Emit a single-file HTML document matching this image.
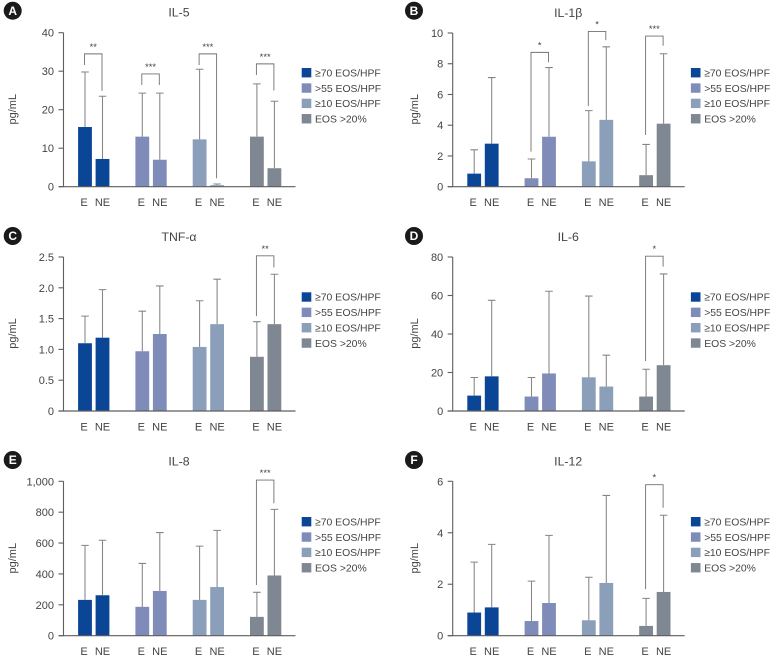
<!DOCTYPE html>
<html lang="en">
<head>
<meta charset="utf-8">
<title>Cytokine levels by eosinophil group</title>
<style>
html,body{margin:0;padding:0;background:#fff;width:775px;height:658px;overflow:hidden}
svg{display:block}
text{font-family:"Liberation Sans",sans-serif;fill:#444}
</style>
</head>
<body>
<svg id="figure" width="775" height="658" viewBox="0 0 775 658" xmlns="http://www.w3.org/2000/svg"></svg>
<script>
// Shared categories
const groupNames = ['70-eos', '55-eos', '10-eos', 'eos-20'];
const xLabels = ['E', 'NE'];
const legendLabels = ['\u226570 EOS/HPF', '>55 EOS/HPF', '\u226510 EOS/HPF', 'EOS >20%'];

// Panel A: IL-5
const il5Ticks = ['0', '10', '20', '30', '40'];
const il5TickValues = [0, 10, 20, 30, 40];
const il5Means = [15.5, 7.2, 13, 7, 12.3, 0.4, 13, 4.8];
const il5Upper = [29.8, 23.5, 24.3, 24.3, 30.5, 0.7, 26.7, 22.2];
const il5SigGroups = [0, 1, 2, 3];
const il5SigLeft = [31.6, 26.4, 31.6, 29];
const il5SigTop = [34.5, 29.3, 34.5, 31.9];
const il5SigRight = [24.9, 26.4, 2.2, 25];
const il5SigStars = ['**', '***', '***', '***'];

// Panel B: IL-1 beta
const il1bTicks = ['0', '2', '4', '6', '8', '10'];
const il1bTickValues = [0, 2, 4, 6, 8, 10];
const il1bMeans = [0.85, 2.8, 0.55, 3.25, 1.65, 4.35, 0.75, 4.1];
const il1bUpper = [2.4, 7.1, 1.8, 7.75, 4.95, 9.1, 2.75, 8.65];
const il1bSigGroups = [1, 2, 3];
const il1bSigLeft = [2.28, 5.25, 3.36];
const il1bSigTop = [8.74, 10.1, 9.8];
const il1bSigRight = [8.1, 9.54, 9.17];
const il1bSigStars = ['*', '*', '***'];

// Panel C: TNF-alpha
const tnfTicks = ['0', '0.5', '1.0', '1.5', '2.0', '2.5'];
const tnfTickValues = [0, 0.5, 1, 1.5, 2, 2.5];
const tnfMeans = [1.1, 1.19, 0.97, 1.25, 1.04, 1.41, 0.88, 1.41];
const tnfUpper = [1.54, 1.97, 1.62, 2.03, 1.79, 2.14, 1.45, 2.22];
const tnfSigGroups = [3];
const tnfSigLeft = [1.54];
const tnfSigTop = [2.52];
const tnfSigRight = [2.33];
const tnfSigStars = ['**'];

// Panel D: IL-6
const il6Ticks = ['0', '20', '40', '60', '80'];
const il6TickValues = [0, 20, 40, 60, 80];
const il6Means = [8, 18, 7.5, 19.5, 17.5, 12.7, 7.5, 23.8];
const il6Upper = [17.4, 57.5, 17.4, 62.2, 59.7, 29, 21.7, 71.2];
const il6SigGroups = [3];
const il6SigLeft = [26];
const il6SigTop = [80.4];
const il6SigRight = [75];
const il6SigStars = ['*'];

// Panel E: IL-8
const il8Ticks = ['0', '200', '400', '600', '800', '1,000'];
const il8TickValues = [0, 200, 400, 600, 800, 1000];
const il8Means = [232, 262, 187, 290, 232, 315, 122, 390];
const il8Upper = [585, 618, 468, 668, 580, 682, 281, 818];
const il8SigGroups = [3];
const il8SigLeft = [328];
const il8SigTop = [1008];
const il8SigRight = [858];
const il8SigStars = ['***'];

// Panel F: IL-12
const il12Ticks = ['0', '2', '4', '6'];
const il12TickValues = [0, 2, 4, 6];
const il12Means = [0.9, 1.1, 0.57, 1.27, 0.6, 2.05, 0.38, 1.7];
const il12Upper = [2.86, 3.55, 2.12, 3.9, 2.27, 5.45, 1.45, 4.68];
const il12SigGroups = [3];
const il12SigLeft = [1.81];
const il12SigTop = [5.87];
const il12SigRight = [4.97];
const il12SigStars = ['*'];

const colors = ['#0a4596', '#7f8cba', '#8b9fba', '#7f8792'];
const NS = 'http://www.w3.org/2000/svg';
const figure = document.getElementById('figure');

function make(parent, tag, attrs, text) {
  const el = document.createElementNS(NS, tag);
  for (const k in attrs) el.setAttribute(k, attrs[k]);
  if (text !== undefined) el.textContent = text;
  parent.appendChild(el);
  return el;
}

function drawPanel(p) {
  const g = make(figure, 'g', {});
  
  

  const yMax = p.tickValues[p.tickValues.length - 1];
  const yScale = v => p.bottom - (v / yMax) * (p.bottom - p.top);
  const xScale = i => p.axisX + 21.5 + Math.floor(i / 2) * 57.3 + (i % 2) * 17.5;

  // Panel letter badge
  const badge = make(g, 'circle', { cx: p.badgeX, cy: p.badgeY, r: 9, fill: '#1a1a1a' });
  
  
  const badgeText = make(g, 'text', { x: p.badgeX, y: p.badgeY + 4.2, 'text-anchor': 'middle', 'font-size': 12, 'font-weight': 'bold', style: 'fill:#fff' }, p.letter);
  
  

  // Title
  const title = make(g, 'text', { x: p.axisX + 115.5, y: p.top - 16, 'text-anchor': 'middle', 'font-size': 12.3 }, p.title);
  
  

  // Y axis title
  const yc = p.bottom - 77.5;
  const yTitle = make(g, 'text', { x: p.yTitleX, y: yc, 'text-anchor': 'middle', 'font-size': 11, transform: 'rotate(-90 ' + p.yTitleX + ' ' + yc + ')' }, 'pg/mL');
  
  

  // Bars
  p.means.forEach((v, i) => {
    const color = colors[Math.floor(i / 2)];
    const cx = xScale(i);
    const bar = make(g, 'rect', { x: cx - 6.9, y: yScale(v), width: 13.8, height: p.bottom - yScale(v), fill: color });
    
    
  });

  // Error bars
  p.upper.forEach((v, i) => {
    const cx = xScale(i);
    const err = make(g, 'path', {
      d: 'M' + cx + ' ' + yScale(p.means[i]) + 'V' + yScale(v) + 'M' + (cx - 3.8) + ' ' + yScale(v) + 'H' + (cx + 3.8),
      stroke: '#858585', 'stroke-width': 1.05, fill: 'none'
    });
    
    
  });

  // Significance brackets
  p.sigGroups.forEach((grp, i) => {
    const x1 = xScale(grp * 2) - 0.5;
    const x2 = xScale(grp * 2 + 1) - 0.5;
    const yTop = yScale(p.sigTop[i]);
    const br = make(g, 'path', {
      d: 'M' + x1 + ' ' + yScale(p.sigLeft[i]) + 'V' + yTop + 'H' + x2 + 'V' + yScale(p.sigRight[i]),
      stroke: '#707070', 'stroke-width': 0.9, fill: 'none'
    });
    
    
    const st = make(g, 'text', { x: (x1 + x2) / 2, y: yTop - 4, 'text-anchor': 'middle', 'font-size': 9.4 }, p.sigStars[i]);
    
    
  });

  // Axes
  const yAxis = make(g, 'line', { x1: p.axisX, x2: p.axisX, y1: p.top, y2: p.bottom, stroke: '#5e5e5e', 'stroke-width': 1.1 });
  
  
  const xAxis = make(g, 'line', { x1: p.axisX - 5, x2: p.axisX + 232, y1: p.bottom, y2: p.bottom, stroke: '#5e5e5e', 'stroke-width': 1.2 });
  
  

  // Y ticks
  p.tickValues.forEach((v, i) => {
    const y = yScale(v);
    const tick = make(g, 'line', { x1: p.axisX - 5, x2: p.axisX, y1: y, y2: y, stroke: '#5e5e5e', 'stroke-width': 1.1 });
    
    
    const lab = make(g, 'text', { x: p.axisX - 9.5, y: y + 4, 'text-anchor': 'end', 'font-size': 11 }, p.ticks[i]);
    
    
  });

  // X labels
  p.means.forEach((v, i) => {
    const lab = make(g, 'text', { x: xScale(i) + (i % 2 ? 0 : -1), y: p.bottom + 19.5, 'text-anchor': 'middle', 'font-size': 11 }, xLabels[i % 2]);
    
    
  });

  // Legend
  legendLabels.forEach((label, i) => {
    const cy = p.bottom - 114 + i * 15.35;
    const sw = make(g, 'rect', { x: p.axisX + 238.2, y: cy - 4.7, width: 9.6, height: 9.4, fill: colors[i] });
    
    
    const lt = make(g, 'text', { x: p.axisX + 251.5, y: cy + 3.7, 'font-size': 10.4 }, label);
    
    
  });
}

drawPanel({ slug: 'il-5', letter: 'A', title: 'IL-5', axisX: 63.5, top: 32.7, bottom: 186.7, badgeX: 12.7, badgeY: 10.7, yTitleX: 16,
  ticks: il5Ticks, tickValues: il5TickValues, means: il5Means, upper: il5Upper,
  sigGroups: il5SigGroups, sigLeft: il5SigLeft, sigTop: il5SigTop, sigRight: il5SigRight, sigStars: il5SigStars });
drawPanel({ slug: 'il-1b', letter: 'B', title: 'IL-1\u03b2', axisX: 452.7, top: 33, bottom: 186.7, badgeX: 414, badgeY: 10.7, yTitleX: 418,
  ticks: il1bTicks, tickValues: il1bTickValues, means: il1bMeans, upper: il1bUpper,
  sigGroups: il1bSigGroups, sigLeft: il1bSigLeft, sigTop: il1bSigTop, sigRight: il1bSigRight, sigStars: il1bSigStars });
drawPanel({ slug: 'tnf-a', letter: 'C', title: 'TNF-\u03b1', axisX: 63.5, top: 257, bottom: 411, badgeX: 12.7, badgeY: 236, yTitleX: 16,
  ticks: tnfTicks, tickValues: tnfTickValues, means: tnfMeans, upper: tnfUpper,
  sigGroups: tnfSigGroups, sigLeft: tnfSigLeft, sigTop: tnfSigTop, sigRight: tnfSigRight, sigStars: tnfSigStars });
drawPanel({ slug: 'il-6', letter: 'D', title: 'IL-6', axisX: 452.7, top: 257, bottom: 411, badgeX: 414, badgeY: 236, yTitleX: 418,
  ticks: il6Ticks, tickValues: il6TickValues, means: il6Means, upper: il6Upper,
  sigGroups: il6SigGroups, sigLeft: il6SigLeft, sigTop: il6SigTop, sigRight: il6SigRight, sigStars: il6SigStars });
drawPanel({ slug: 'il-8', letter: 'E', title: 'IL-8', axisX: 63.5, top: 481.3, bottom: 635.7, badgeX: 12.7, badgeY: 460, yTitleX: 16,
  ticks: il8Ticks, tickValues: il8TickValues, means: il8Means, upper: il8Upper,
  sigGroups: il8SigGroups, sigLeft: il8SigLeft, sigTop: il8SigTop, sigRight: il8SigRight, sigStars: il8SigStars });
drawPanel({ slug: 'il-12', letter: 'F', title: 'IL-12', axisX: 452.7, top: 481.3, bottom: 635.7, badgeX: 414, badgeY: 460, yTitleX: 418,
  ticks: il12Ticks, tickValues: il12TickValues, means: il12Means, upper: il12Upper,
  sigGroups: il12SigGroups, sigLeft: il12SigLeft, sigTop: il12SigTop, sigRight: il12SigRight, sigStars: il12SigStars });
</script>
</body>
</html>
